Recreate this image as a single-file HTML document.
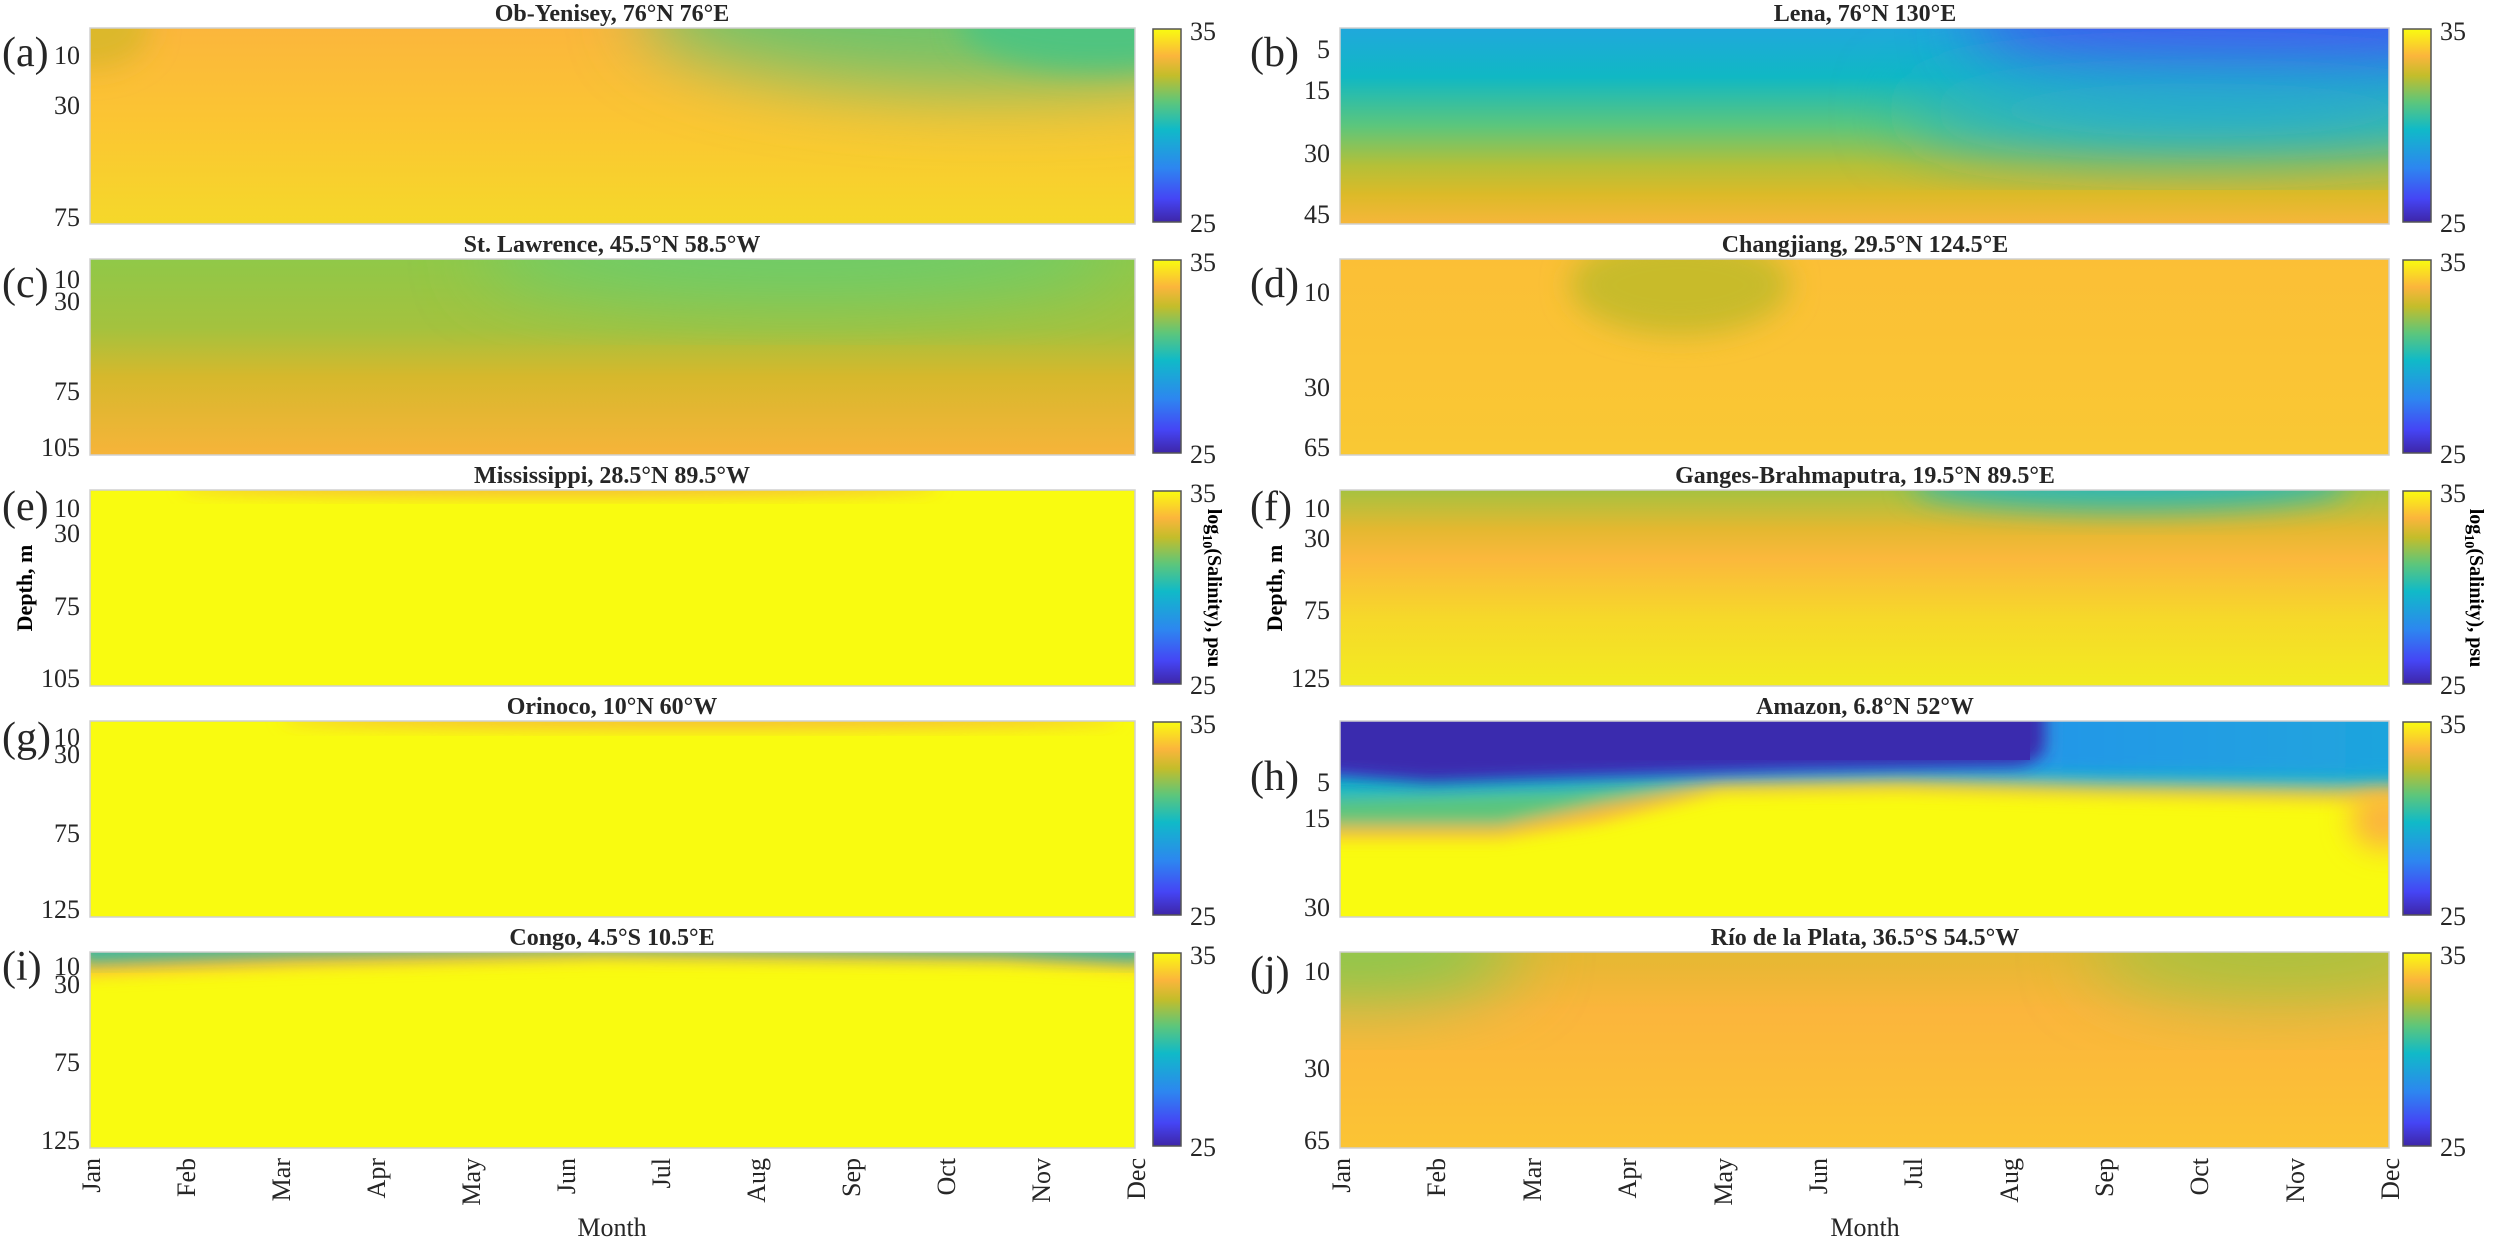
<!DOCTYPE html>
<html><head><meta charset="utf-8"><style>
html,body{margin:0;padding:0;background:#fff;}
svg{display:block;}
text{font-family:"Liberation Serif",serif;fill:#262626;}
.t{font-weight:bold;font-size:24px;text-anchor:middle;fill:#000;}
.k{font-size:26px;text-anchor:end;}
.c{font-size:26px;}
.p{font-size:42px;fill:#000;}
.m{font-size:26px;text-anchor:end;}
</style></head><body>
<svg width="2500" height="1241" viewBox="0 0 2500 1241" xmlns="http://www.w3.org/2000/svg">
<defs>
<filter id="b" x="-50%" y="-50%" width="200%" height="200%"><feGaussianBlur stdDeviation="35"/></filter>
<filter id="bs" x="-50%" y="-50%" width="200%" height="200%"><feGaussianBlur stdDeviation="8"/></filter>
<filter id="bm" x="-50%" y="-50%" width="200%" height="200%"><feGaussianBlur stdDeviation="14"/></filter>
<linearGradient id="cb" x1="0" y1="1" x2="0" y2="0">
<stop offset="0" stop-color="#3e26a8"/><stop offset="0.12" stop-color="#4545f5"/><stop offset="0.28" stop-color="#2d86f0"/><stop offset="0.48" stop-color="#10bac8"/><stop offset="0.62" stop-color="#5cc67c"/><stop offset="0.76" stop-color="#c4bd2a"/><stop offset="0.86" stop-color="#fbb53c"/><stop offset="1" stop-color="#f9fb10"/></linearGradient>
<linearGradient id="ga" x1="0" y1="0" x2="0" y2="1"><stop offset="0" stop-color="#fbb63c"/><stop offset="0.5" stop-color="#fbc632"/><stop offset="1" stop-color="#f5d82a"/></linearGradient>
<linearGradient id="gb" x1="0" y1="0" x2="0" y2="1"><stop offset="0" stop-color="#20a8dc"/><stop offset="0.25" stop-color="#10b8c4"/><stop offset="0.5" stop-color="#5cc67c"/><stop offset="0.7" stop-color="#b4c038"/><stop offset="0.85" stop-color="#dcba28"/><stop offset="1" stop-color="#f6b63a"/></linearGradient>
<linearGradient id="gc" x1="0" y1="0" x2="0" y2="1"><stop offset="0" stop-color="#90c848"/><stop offset="0.35" stop-color="#a4c23e"/><stop offset="0.6" stop-color="#d6b82c"/><stop offset="1" stop-color="#f6b43a"/></linearGradient>
<linearGradient id="gd" x1="0" y1="0" x2="0" y2="1"><stop offset="0" stop-color="#fbbf36"/><stop offset="1" stop-color="#f9c834"/></linearGradient>
<linearGradient id="gf" x1="0" y1="0" x2="0" y2="1"><stop offset="0" stop-color="#a6c240"/><stop offset="0.2" stop-color="#e4b830"/><stop offset="0.35" stop-color="#fbb83c"/><stop offset="0.65" stop-color="#f6d82a"/><stop offset="1" stop-color="#f2ec20"/></linearGradient>
<linearGradient id="gj" x1="0" y1="0" x2="0" y2="1"><stop offset="0" stop-color="#e4b832"/><stop offset="0.3" stop-color="#fbb53c"/><stop offset="1" stop-color="#fbc434"/></linearGradient>
<linearGradient id="gh" x1="0" y1="0" x2="1" y2="0"><stop offset="0" stop-color="#4060f8"/><stop offset="0.4" stop-color="#2a8cf0"/><stop offset="1" stop-color="#1ea6dc"/></linearGradient>
<clipPath id="ca"><rect x="90" y="28" width="1045" height="196"/></clipPath>
<clipPath id="cbp"><rect x="1340" y="28" width="1049" height="196"/></clipPath>
<clipPath id="cc"><rect x="90" y="259" width="1045" height="196"/></clipPath>
<clipPath id="cd"><rect x="1340" y="259" width="1049" height="196"/></clipPath>
<clipPath id="ce"><rect x="90" y="490" width="1045" height="196"/></clipPath>
<clipPath id="cf"><rect x="1340" y="490" width="1049" height="196"/></clipPath>
<clipPath id="cg"><rect x="90" y="721" width="1045" height="196"/></clipPath>
<clipPath id="ch"><rect x="1340" y="721" width="1049" height="196"/></clipPath>
<clipPath id="ci"><rect x="90" y="952" width="1045" height="196"/></clipPath>
<clipPath id="cj"><rect x="1340" y="952" width="1049" height="196"/></clipPath>
</defs>

<!-- (a) -->
<g clip-path="url(#ca)"><rect x="90" y="28" width="1045" height="196" fill="url(#ga)"/>
<ellipse cx="1000" cy="10" rx="360" ry="80" fill="#70c46a" filter="url(#b)"/>
<ellipse cx="1100" cy="25" rx="140" ry="45" fill="#50c480" filter="url(#bm)"/>
<ellipse cx="90" cy="28" rx="60" ry="40" fill="#dcb82c" filter="url(#bm)"/></g>
<!-- (b) -->
<g clip-path="url(#cbp)"><rect x="1340" y="28" width="1049" height="196" fill="url(#gb)"/>
<ellipse cx="2250" cy="20" rx="280" ry="70" fill="#3f5cf0" filter="url(#b)"/>
<ellipse cx="2200" cy="110" rx="300" ry="40" fill="#20b0d0" filter="url(#b)"/></g>
<!-- (c) -->
<g clip-path="url(#cc)"><rect x="90" y="259" width="1045" height="196" fill="url(#gc)"/>
<ellipse cx="800" cy="255" rx="320" ry="45" fill="#6ccc6c" filter="url(#b)"/></g>
<!-- (d) -->
<g clip-path="url(#cd)"><rect x="1340" y="259" width="1049" height="196" fill="url(#gd)"/>
<ellipse cx="1680" cy="285" rx="110" ry="50" fill="#c8bb2a" filter="url(#bm)"/></g>
<!-- (e) -->
<g clip-path="url(#ce)"><rect x="90" y="490" width="1045" height="196" fill="#f9fb10"/>
<ellipse cx="560" cy="488" rx="380" ry="8" fill="#f6b63a" filter="url(#bs)"/></g>
<!-- (f) -->
<g clip-path="url(#cf)"><rect x="1340" y="490" width="1049" height="196" fill="url(#gf)"/>
<ellipse cx="2130" cy="485" rx="220" ry="25" fill="#30b8b0" filter="url(#bm)"/></g>
<!-- (g) -->
<g clip-path="url(#cg)"><rect x="90" y="721" width="1045" height="196" fill="#f9fb10"/>
<ellipse cx="700" cy="720" rx="420" ry="8" fill="#f6b63a" filter="url(#bs)"/></g>
<!-- (h) -->
<g clip-path="url(#ch)"><rect x="1340" y="721" width="1049" height="196" fill="#f9fb10"/>
<g filter="url(#bs)">
<path d="M1300 700 L2430 700 L2430 805 L2330 800 L2100 795 L1900 790 L1720 792 L1600 822 L1500 838 L1300 838 Z" fill="#fbb53c"/>
<path d="M1300 700 L2430 700 L2430 793 L2100 788 L1900 782 L1720 784 L1600 805 L1500 826 L1300 826 Z" fill="#5cc67c"/>
<path d="M1300 700 L2430 700 L2430 784 L2100 780 L1900 775 L1720 778 L1560 792 L1300 800 Z" fill="#10b8c8"/>
</g>
<ellipse cx="2385" cy="820" rx="35" ry="30" fill="#fbb53c" filter="url(#bm)"/>
<path d="M1300 690 L2430 690 L2430 778 L2100 774 L1900 770 L1700 772 L1300 772 Z" fill="url(#gh)" filter="url(#bs)"/>
<path d="M1300 680 L2045 680 L2045 748 Q2040 764 2010 766 L1800 770 L1560 777 L1430 782 L1360 776 L1300 770 Z" fill="#3a2bae" filter="url(#bs)"/>
<rect x="1300" y="680" width="730" height="80" fill="#3a2bae"/></g>
<!-- (i) -->
<g clip-path="url(#ci)"><rect x="90" y="952" width="1045" height="196" fill="#f9fb10"/>
<path d="M80 940 L1145 940 L1145 970 L1000 962 L600 958 L300 966 L80 975 Z" fill="#fbb53c" filter="url(#bs)"/>
<path d="M80 940 L1145 940 L1145 962 L1000 955 L600 950 L300 955 L80 962 Z" fill="#28b8a8" filter="url(#bs)"/></g>
<!-- (j) -->
<g clip-path="url(#cj)"><rect x="1340" y="952" width="1049" height="196" fill="url(#gj)"/>
<ellipse cx="1360" cy="950" rx="160" ry="50" fill="#88c850" filter="url(#b)"/>
<ellipse cx="2280" cy="950" rx="190" ry="50" fill="#a8c240" filter="url(#b)"/></g>

<!-- frames -->
<g fill="none" stroke="#d0d0d0" stroke-width="1.5">
<rect x="90" y="28" width="1045" height="196"/><rect x="1340" y="28" width="1049" height="196"/>
<rect x="90" y="259" width="1045" height="196"/><rect x="1340" y="259" width="1049" height="196"/>
<rect x="90" y="490" width="1045" height="196"/><rect x="1340" y="490" width="1049" height="196"/>
<rect x="90" y="721" width="1045" height="196"/><rect x="1340" y="721" width="1049" height="196"/>
<rect x="90" y="952" width="1045" height="196"/><rect x="1340" y="952" width="1049" height="196"/>
</g>

<!-- colorbars -->
<g stroke="#555" stroke-width="1.5" fill="url(#cb)">
<rect x="1153" y="29" width="28" height="193"/><rect x="2403" y="29" width="28" height="193"/>
<rect x="1153" y="260" width="28" height="193"/><rect x="2403" y="260" width="28" height="193"/>
<rect x="1153" y="491" width="28" height="193"/><rect x="2403" y="491" width="28" height="193"/>
<rect x="1153" y="722" width="28" height="193"/><rect x="2403" y="722" width="28" height="193"/>
<rect x="1153" y="953" width="28" height="193"/><rect x="2403" y="953" width="28" height="193"/>
</g>
<g class="c">
<text x="1190" y="40">35</text><text x="1190" y="232">25</text><text x="2440" y="40">35</text><text x="2440" y="232">25</text>
<text x="1190" y="271">35</text><text x="1190" y="463">25</text><text x="2440" y="271">35</text><text x="2440" y="463">25</text>
<text x="1190" y="502">35</text><text x="1190" y="694">25</text><text x="2440" y="502">35</text><text x="2440" y="694">25</text>
<text x="1190" y="733">35</text><text x="1190" y="925">25</text><text x="2440" y="733">35</text><text x="2440" y="925">25</text>
<text x="1190" y="964">35</text><text x="1190" y="1156">25</text><text x="2440" y="964">35</text><text x="2440" y="1156">25</text>
</g>

<!-- titles -->
<g class="t">
<text x="612" y="21">Ob-Yenisey, 76°N 76°E</text>
<text x="1865" y="21">Lena, 76°N 130°E</text>
<text x="612" y="252">St. Lawrence, 45.5°N 58.5°W</text>
<text x="1865" y="252">Changjiang, 29.5°N 124.5°E</text>
<text x="612" y="483">Mississippi, 28.5°N 89.5°W</text>
<text x="1865" y="483">Ganges-Brahmaputra, 19.5°N 89.5°E</text>
<text x="612" y="714">Orinoco, 10°N 60°W</text>
<text x="1865" y="714">Amazon, 6.8°N 52°W</text>
<text x="612" y="945">Congo, 4.5°S 10.5°E</text>
<text x="1865" y="945">Río de la Plata, 36.5°S 54.5°W</text>
</g>

<!-- panel labels -->
<g class="p">
<text x="2" y="66">(a)</text><text x="1250" y="66">(b)</text>
<text x="2" y="297">(c)</text><text x="1250" y="297">(d)</text>
<text x="2" y="520">(e)</text><text x="1250" y="520">(f)</text>
<text x="2" y="751">(g)</text><text x="1250" y="790">(h)</text>
<text x="2" y="980">(i)</text><text x="1250" y="985">(j)</text>
</g>

<!-- y ticks -->
<g class="k">
<text x="80" y="64">10</text><text x="80" y="114">30</text><text x="80" y="226">75</text>
<text x="1330" y="58">5</text><text x="1330" y="99">15</text><text x="1330" y="162">30</text><text x="1330" y="223">45</text>
<text x="80" y="288">10</text><text x="80" y="310">30</text><text x="80" y="400">75</text><text x="80" y="456">105</text>
<text x="1330" y="301">10</text><text x="1330" y="396">30</text><text x="1330" y="456">65</text>
<text x="80" y="517">10</text><text x="80" y="542">30</text><text x="80" y="615">75</text><text x="80" y="687">105</text>
<text x="1330" y="517">10</text><text x="1330" y="547">30</text><text x="1330" y="619">75</text><text x="1330" y="687">125</text>
<text x="80" y="746">10</text><text x="80" y="763">30</text><text x="80" y="842">75</text><text x="80" y="918">125</text>
<text x="1330" y="791">5</text><text x="1330" y="827">15</text><text x="1330" y="916">30</text>
<text x="80" y="975">10</text><text x="80" y="993">30</text><text x="80" y="1071">75</text><text x="80" y="1149">125</text>
<text x="1330" y="980">10</text><text x="1330" y="1077">30</text><text x="1330" y="1149">65</text>
</g>

<!-- months -->
<g class="m">
<text transform="translate(100,1158) rotate(-90)">Jan</text>
<text transform="translate(195,1158) rotate(-90)">Feb</text>
<text transform="translate(290,1158) rotate(-90)">Mar</text>
<text transform="translate(385,1158) rotate(-90)">Apr</text>
<text transform="translate(480,1158) rotate(-90)">May</text>
<text transform="translate(575,1158) rotate(-90)">Jun</text>
<text transform="translate(670,1158) rotate(-90)">Jul</text>
<text transform="translate(765,1158) rotate(-90)">Aug</text>
<text transform="translate(860,1158) rotate(-90)">Sep</text>
<text transform="translate(955,1158) rotate(-90)">Oct</text>
<text transform="translate(1050,1158) rotate(-90)">Nov</text>
<text transform="translate(1145,1158) rotate(-90)">Dec</text>
<text transform="translate(1350,1158) rotate(-90)">Jan</text>
<text transform="translate(1445,1158) rotate(-90)">Feb</text>
<text transform="translate(1541,1158) rotate(-90)">Mar</text>
<text transform="translate(1636,1158) rotate(-90)">Apr</text>
<text transform="translate(1732,1158) rotate(-90)">May</text>
<text transform="translate(1827,1158) rotate(-90)">Jun</text>
<text transform="translate(1922,1158) rotate(-90)">Jul</text>
<text transform="translate(2018,1158) rotate(-90)">Aug</text>
<text transform="translate(2113,1158) rotate(-90)">Sep</text>
<text transform="translate(2208,1158) rotate(-90)">Oct</text>
<text transform="translate(2304,1158) rotate(-90)">Nov</text>
<text transform="translate(2399,1158) rotate(-90)">Dec</text>
</g>
<text x="612" y="1236" style="font-size:26px;text-anchor:middle">Month</text>
<text x="1865" y="1236" style="font-size:26px;text-anchor:middle">Month</text>
<text transform="translate(32,588) rotate(-90)" style="font-size:22px;font-weight:bold;text-anchor:middle;fill:#000">Depth, m</text>
<text transform="translate(1282,588) rotate(-90)" style="font-size:22px;font-weight:bold;text-anchor:middle;fill:#000">Depth, m</text>
<text transform="translate(1208,588) rotate(90)" style="font-size:20px;font-weight:bold;text-anchor:middle;fill:#000">log<tspan font-size="14" dy="5">10</tspan><tspan dy="-5">(Salinity), psu</tspan></text>
<text transform="translate(2470,588) rotate(90)" style="font-size:20px;font-weight:bold;text-anchor:middle;fill:#000">log<tspan font-size="14" dy="5">10</tspan><tspan dy="-5">(Salinity), psu</tspan></text>
</svg>
</body></html>
